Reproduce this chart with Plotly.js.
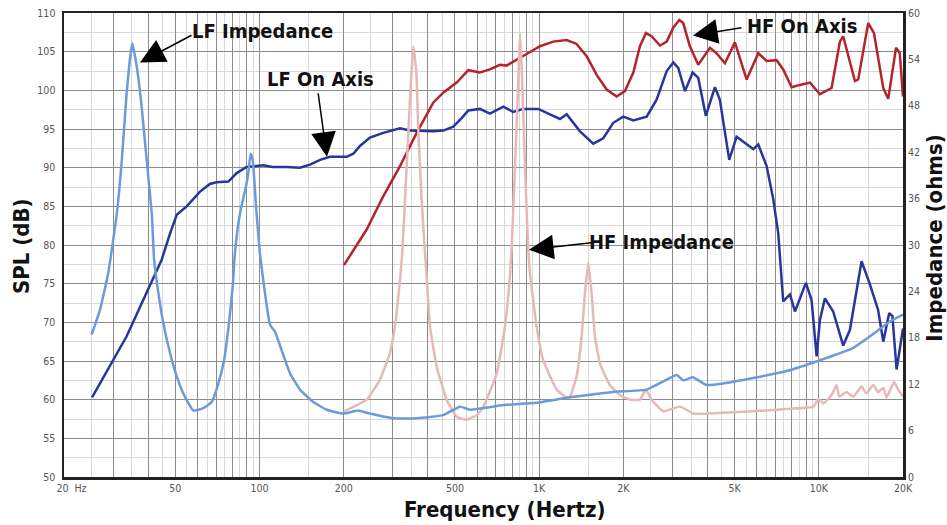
<!DOCTYPE html>
<html>
<head>
<meta charset="utf-8">
<script src="https://cdn.plot.ly/plotly-3.0.1.min.js"></script>
<style>
html,body{margin:0;padding:0;background:#fff;}
#chart{width:947px;height:525px;}
</style>
</head>
<body>
<div id="chart"></div>
<script>
// ---------- DATA ----------
// LF Impedance (ohms, right axis)
const lfImpFreq = [25.1,26.9,28.8,30.9,32.2,33.5,34.4,35.1,36.4,37.9,39.5,41.2,42.0,43.5,45.3,47.9,50.6,53.4,58.0,63.0,67.5,71.3,74.7,78.0,80.2,81.7,85.2,89.5,91.2,93.0,94.6,97.2,100.3,104.6,109,113.6,120,128.6,139.6,155.8,173.9,199.4,225.6,241.7,300.8,364.8,454,521,566,744,979,1288,1841,2424,2858,3102,3275,3540,3969,4550,5829,7674,10093,13276,16087,17956,20000];
const lfImpOhms = [18.4,21.6,26.4,34.1,41.0,49.7,54.0,56.1,53.1,47.9,41.0,34.1,28.1,23.8,19.9,16.0,13.0,10.8,8.6,8.9,9.7,12.1,15.1,20.3,24.6,29.0,34.1,37.6,39.3,41.8,41.0,35.0,29.0,23.8,19.7,18.8,16.4,13.4,11.3,9.7,8.7,8.2,8.6,8.3,7.6,7.6,8.0,9.1,8.7,9.3,9.6,10.3,11.0,11.3,12.6,13.2,12.5,12.9,11.9,12.1,12.8,13.7,15.1,16.7,18.8,20.1,21.0];

// LF On Axis (dB SPL, left axis)
const lfAxisFreq = [25.2,29.2,33.5,38.4,41.7,44.7,47.9,50.6,54.9,61.3,66.5,70.2,77.4,82.9,89.9,103.2,111.4,125.1,139.6,151.6,164.6,178.6,205,216.5,228.7,248.3,277.1,317.9,345.2,418.3,454,493,528.4,558,614,667,744.5,808,877,993,1093,1187,1254,1400,1561,1695,1841,1999,2171,2424,2630,2858,3017,3143,3322,3540,3706,3945,4251,4427,4783,5083,5829,6075,6507,6874,7161,7373,7460,7884,8216,8993,9420,9821,10093,10515,11256,12222,12915,14218,15232,16296,17000,17855,18330,18970,20000];
const lfAxisSPL = [60.3,64.3,68.2,72.9,75.7,78.1,81.5,83.9,85.0,86.9,87.9,88.1,88.2,89.3,90.1,90.3,90.1,90.1,90.0,90.4,91.0,91.4,91.4,91.8,92.8,93.9,94.5,95.1,94.8,94.7,94.8,95.3,96.4,97.4,97.6,97.0,97.9,97.2,97.6,97.6,96.9,96.3,96.9,94.7,93.1,93.8,95.8,96.6,96.1,96.6,98.8,102.5,103.6,102.9,99.9,102.3,101.6,96.7,100.4,98.8,91.0,94.0,92.4,93.0,90.2,85.9,81.5,75.5,72.7,73.6,71.4,75.1,72.9,65.6,70.3,73.1,71.4,67.0,69.0,77.9,74.9,71.6,67.5,71.2,70.8,63.9,69.2];

// HF On Axis (dB SPL, left axis)
const hfAxisFreq = [200.5,241.7,277,318,364.8,418,454,507,558,614,667,724,765,831,902,1007,1123,1254,1361,1479,1606,1743,1893,2027,2171,2293,2409,2524,2704,2858,3017,3170,3275,3459,3706,4080,4307,4616,5012,5520,6075,6507,7063,7460,7995,8560,9297,10093,11108,11899,12222,13462,13835,15019,15751,17000,17714,18880,19480,20000];
const hfAxisSPL = [77.4,82.0,86.3,90.2,94.5,98.4,99.7,101.0,102.6,102.3,102.7,103.3,103.2,104.0,104.7,105.7,106.3,106.5,106.0,104.4,102.0,100.1,99.2,99.9,102.3,105.7,107.4,107.0,105.8,106.3,108.1,109.1,108.7,105.7,103.3,105.5,104.8,103.5,106.2,101.4,104.8,103.8,103.9,102.7,100.4,100.7,101.0,99.5,100.3,106.3,107.0,101.2,101.4,108.7,107.4,100.3,98.9,105.5,104.8,99.2];

// HF Impedance (ohms, right axis)
const hfImpFreq = [200.5,241.7,269.6,292.8,305,318,324,331.4,340.6,348,354.8,364,370,380,390.6,396,407,430,467,507,551,598,632,705,755,786,798,820,842,854,866,890,913,927,979,1034,1155,1254,1288,1361,1419,1458,1498,1540,1583,1649,1791,1944,2112,2293,2409,2524,2778,3188,3560,3969,4550,5829,7674,9551,9966,10386,11108,11577,11826,12568,13276,14218,14800,15640,16296,17000,17480,18560,19230,20000];
const hfImpOhms = [8.5,10.0,12.6,16.0,19.5,25.5,29.0,35.9,44.5,51.0,55.7,52.3,44.5,35.9,29.0,26.0,19.5,14.3,10.0,7.8,7.4,8.0,9.1,13.4,19.5,25.9,29.8,40.2,51.0,57.4,53.1,40.2,29.8,26.4,19.5,15.1,11.3,10.3,10.4,13.0,18.2,23.8,27.7,23.8,18.2,14.7,11.9,10.6,10.0,10.0,11.3,10.0,8.5,9.1,8.2,8.2,8.3,8.5,8.8,9.1,10.1,9.5,10.6,11.9,10.4,11.0,10.4,11.7,10.8,11.9,11.0,11.5,10.3,12.3,11.3,10.4];

// Axis ticks
const xMajorVals = [20,30,40,50,60,70,80,90,100,200,300,400,500,600,700,800,900,1000,2000,3000,4000,5000,6000,7000,8000,9000,10000,20000];
const xMinorVals = [25,35,45,55,65,75,85,95,150,250,350,450,550,650,750,850,950,1500,2500,3500,4500,5500,6500,7500,8500,9500,15000];
const xLabelMap = {20:'\u00a0\u00a0\u00a0\u00a0\u00a020\u00a0\u00a0Hz',50:'50',100:'100',200:'200',500:'500',1000:'1K',2000:'2K',5000:'5K',10000:'10K',20000:'20K'};

// Annotation labels and arrow targets (freq, dB)
const labels = ['LF Impedance','LF On Axis','HF On Axis','HF Impedance'];
const labelFreq = [102.9,164.6,8700,2749];
const labelSPL = [107.7,101.5,108.3,80.4];
const tipFreq = [37.4,174.3,3548,919];
const tipSPL = [103.6,91.4,107.1,79.4];
const tailDx = [53,-9,50,64];
const tailDy = [-28,-65,-8,-7];

// ---------- STYLE ----------
const narrow = '"DejaVu Sans Condensed", "Liberation Sans Narrow", sans-serif';
const lw = 2.5;

const traces = [
  {x: hfImpFreq, y: hfImpOhms, yaxis:'y2', mode:'lines', line:{color:'#e6b8b8', width:lw, shape:'spline', smoothing:0.4}},
  {x: lfImpFreq, y: lfImpOhms, yaxis:'y2', mode:'lines', line:{color:'#6b9bd9', width:lw, shape:'spline', smoothing:0.4}},
  {x: hfAxisFreq, y: hfAxisSPL, mode:'lines', line:{color:'#b5232f', width:lw, shape:'linear'}},
  {x: lfAxisFreq, y: lfAxisSPL, mode:'lines', line:{color:'#28359a', width:lw, shape:'linear'}}
];

const annotations = [];
for (let i = 0; i < labels.length; i++) {
  annotations.push({
    xref:'x', yref:'y', x:Math.log10(labelFreq[i]), y:labelSPL[i],
    xanchor:'center', yanchor:'middle',
    text:'<b>'+labels[i]+'</b>', showarrow:false,
    font:{family:narrow, size:20, color:'#111'}
  });
  annotations.push({
    xref:'x', yref:'y', x:Math.log10(tipFreq[i]), y:tipSPL[i],
    text:'', showarrow:true, ax:tailDx[i], ay:tailDy[i],
    arrowhead:2, arrowsize:3.3, arrowwidth:1.5, arrowcolor:'#000', standoff:0
  });
}
// axis titles
annotations.push({xref:'paper', yref:'paper', x:0.5256, y:-0.07, xanchor:'center', yanchor:'middle',
  text:'<b>Frequency (Hertz)</b>', showarrow:false, font:{family:narrow, size:22, color:'#111'}});
annotations.push({xref:'paper', yref:'paper', x:-0.05, y:0.498, xanchor:'center', yanchor:'middle',
  text:'<b>SPL (dB)</b>', showarrow:false, textangle:-90, font:{family:narrow, size:22, color:'#111'}});
annotations.push({xref:'paper', yref:'paper', x:1.0381, y:0.5157, xanchor:'center', yanchor:'middle',
  text:'<b>Impedance (ohms)</b>', showarrow:false, textangle:-90, font:{family:narrow, size:22, color:'#111'}});

const tickFont = {family:narrow, size:10.5, color:'#555'};

const layout = {
  width:947, height:525,
  margin:{l:64, r:44, t:13, b:48},
  paper_bgcolor:'#fff', plot_bgcolor:'#fff',
  showlegend:false,
  xaxis:{
    type:'log', range:[Math.log10(20), Math.log10(20000)],
    tickmode:'array', tickvals:xMajorVals, ticktext:xMajorVals.map(v => xLabelMap[v] || ''),
    showgrid:true, gridcolor:'#8c8c8c', gridwidth:1,
    minor:{tickmode:'array', tickvals:xMinorVals, showgrid:true, gridcolor:'#d8d8d8', gridwidth:1, ticks:''},
    ticks:'', ticklen:0,
    tickfont:tickFont, tickangle:0,
    showline:true, mirror:true, linecolor:'#222', linewidth:2.5, zeroline:false
  },
  yaxis:{
    range:[50,110], tick0:50, dtick:5,
    showgrid:true, gridcolor:'#8c8c8c', gridwidth:1,
    minor:{tick0:50, dtick:2.5, showgrid:true, gridcolor:'#d8d8d8', gridwidth:1, ticks:''},
    ticks:'outside', ticklen:4, tickcolor:'rgba(0,0,0,0)',
    tickfont:tickFont,
    showline:true, mirror:true, linecolor:'#222', linewidth:2.5, zeroline:false
  },
  yaxis2:{
    overlaying:'y', side:'right', range:[0,60], tick0:0, dtick:6,
    showgrid:false, zeroline:false, showline:false,
    ticks:'outside', ticklen:2, tickcolor:'rgba(0,0,0,0)',
    tickfont:tickFont
  },
  annotations:annotations
};

Plotly.newPlot('chart', traces, layout, {displayModeBar:false, staticPlot:true});
</script>
</body>
</html>
